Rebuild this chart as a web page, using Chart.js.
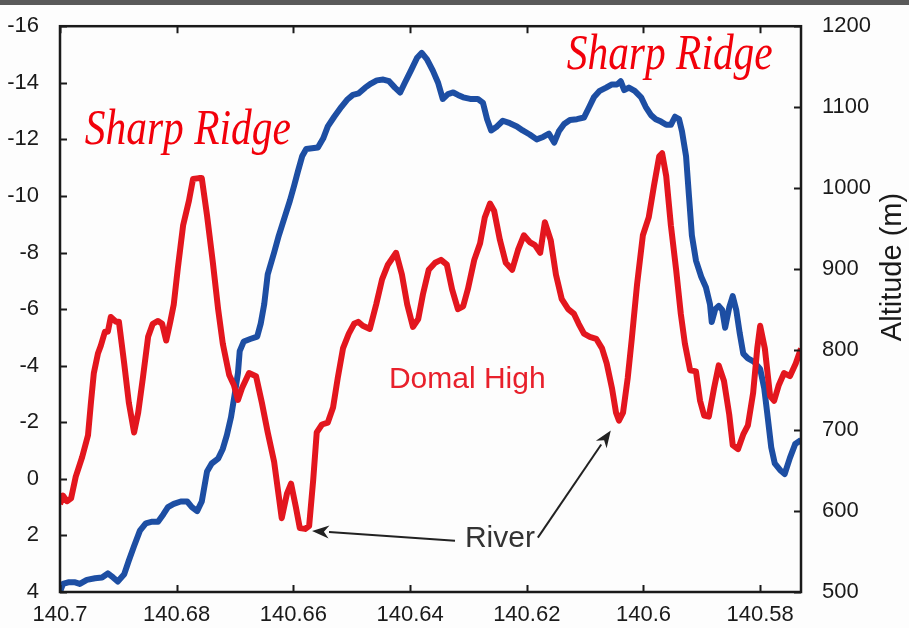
<!DOCTYPE html>
<html>
<head>
<meta charset="utf-8">
<title>Profile</title>
<script src="https://cdn.jsdelivr.net/npm/chart.js@4.4.1/dist/chart.umd.min.js"></script>
<style>
  html, body { margin: 0; padding: 0; background: #fdfdfd; }
  #wrap { width: 909px; height: 628px; position: relative; }
</style>
</head>
<body>
<div id="wrap"><canvas id="profile"></canvas></div>
<script>
// Red profile (left axis, reversed) sampled along longitude
const redLon = [
  140.7, 140.6995, 140.6988, 140.6981, 140.6973, 140.6962, 140.6952, 140.6947, 140.6942, 140.6935,
  140.693, 140.6923, 140.6918, 140.6913, 140.6904, 140.6899, 140.689, 140.6882, 140.6873, 140.6866,
  140.6858, 140.6849, 140.6841, 140.6832, 140.6825, 140.6818, 140.6811, 140.6805, 140.6798, 140.6789,
  140.6779, 140.6772, 140.6762, 140.6757, 140.6748, 140.6738, 140.6729, 140.6721, 140.671, 140.6702,
  140.6695, 140.6688, 140.6676, 140.6664, 140.6654, 140.6644, 140.6633, 140.6625, 140.662, 140.6611,
  140.6604, 140.6596, 140.6589, 140.658, 140.6573, 140.6566, 140.656, 140.6551, 140.6541, 140.6532,
  140.6524, 140.6515, 140.6505, 140.6496, 140.6489, 140.6481, 140.6469, 140.6458, 140.6448, 140.6438,
  140.6424, 140.6414, 140.6405, 140.6395, 140.6386, 140.6378, 140.6368, 140.6357, 140.6347, 140.6337,
  140.6328, 140.6318, 140.6309, 140.6301, 140.629, 140.628, 140.6272, 140.6263, 140.6256, 140.6246,
  140.6236, 140.6225, 140.6215, 140.6205, 140.6195, 140.6186, 140.6177, 140.6169, 140.6159, 140.615,
  140.614, 140.6129, 140.6119, 140.6111, 140.6102, 140.6092, 140.6081, 140.6071, 140.6063, 140.6054,
  140.6047, 140.6042, 140.6035, 140.6027, 140.602, 140.6011, 140.6001, 140.5991, 140.5982, 140.5973,
  140.5968, 140.5961, 140.5953, 140.5944, 140.5936, 140.5929, 140.592, 140.591, 140.5903, 140.5896,
  140.5888, 140.5879, 140.5871, 140.5862, 140.5853, 140.5847, 140.5838, 140.5829, 140.5821, 140.5812,
  140.5805, 140.58, 140.5792, 140.5783, 140.5776, 140.5768, 140.5759, 140.5749, 140.5739, 140.573
];
const redVal = [
  0.9, 0.59, 0.79, 0.69, -0.08, -0.77, -1.54, -2.69, -3.74, -4.43,
  -4.71, -5.2, -5.2, -5.72, -5.55, -5.55, -4.08, -2.69, -1.64, -2.34,
  -3.56, -5.02, -5.48, -5.58, -5.48, -4.89, -5.55, -6.17, -7.46, -8.96,
  -9.83, -10.6, -10.63, -10.63, -9.31, -7.64, -6.0, -4.78, -3.67, -3.32,
  -2.79, -3.21, -3.74, -3.63, -2.69, -1.64, -0.6, 0.62, 1.39, 0.52,
  0.17, 0.97, 1.74, 1.77, 1.67, 0.03, -1.64, -1.92, -1.99, -2.52,
  -3.56, -4.61, -5.13, -5.48, -5.55, -5.41, -5.3, -6.17, -7.05, -7.57,
  -7.99, -7.22, -6.17, -5.37, -5.65, -6.52, -7.39, -7.64, -7.74, -7.57,
  -6.7, -6.0, -6.1, -6.7, -7.74, -8.33, -9.24, -9.73, -9.48, -8.44,
  -7.64, -7.39, -8.09, -8.61, -8.37, -8.26, -7.99, -9.07, -8.44, -7.22,
  -6.35, -6.0, -5.83, -5.48, -5.13, -5.02, -4.95, -4.61, -4.08, -3.21,
  -2.34, -2.06, -2.34, -3.56, -4.95, -6.87, -8.61, -9.24, -10.36, -11.4,
  -11.51, -10.7, -8.96, -7.39, -5.83, -4.78, -3.84, -3.8, -2.76, -2.24,
  -2.2, -3.21, -4.01, -3.46, -2.27, -1.19, -1.05, -1.57, -1.89, -3.04,
  -4.61, -5.41, -4.61, -2.93, -2.76, -3.32, -3.74, -3.63, -4.08, -4.61
];

// Altitude profile (right axis, metres)
const blueLon = [
  140.7, 140.6995, 140.6986, 140.6974, 140.6966, 140.6954, 140.694, 140.6928, 140.6918, 140.6909,
  140.6901, 140.689, 140.6882, 140.6873, 140.6863, 140.6853, 140.6842, 140.6832, 140.6823, 140.6815,
  140.6805, 140.6793, 140.6782, 140.6774, 140.6765, 140.6757, 140.6748, 140.674, 140.6729, 140.6721,
  140.6714, 140.6707, 140.67, 140.6695, 140.6692, 140.6685, 140.6674, 140.6662, 140.6656, 140.665,
  140.6644, 140.6633, 140.6625, 140.6614, 140.6606, 140.6599, 140.6592, 140.6585, 140.6578, 140.6568,
  140.6558, 140.6549, 140.6541, 140.653, 140.6518, 140.6508, 140.6498, 140.6488, 140.6477, 140.6467,
  140.6457, 140.6446, 140.6436, 140.6426, 140.6417, 140.6409, 140.6398, 140.6388, 140.638, 140.6371,
  140.6361, 140.6352, 140.6344, 140.6335, 140.6326, 140.6318, 140.6309, 140.6297, 140.6284, 140.6275,
  140.6268, 140.6261, 140.6251, 140.6241, 140.6229, 140.6217, 140.6207, 140.6195, 140.6183, 140.6172,
  140.6162, 140.6153, 140.6145, 140.6136, 140.6126, 140.6114, 140.6102, 140.6093, 140.6085, 140.6075,
  140.6064, 140.6054, 140.6045, 140.6039, 140.6033, 140.6025, 140.6015, 140.6004, 140.5996, 140.5987,
  140.5979, 140.597, 140.5961, 140.5953, 140.5946, 140.5939, 140.5934, 140.5927, 140.5922, 140.5917,
  140.591, 140.5901, 140.5893, 140.5886, 140.5883, 140.5877, 140.5871, 140.5865, 140.586, 140.5853,
  140.5847, 140.5841, 140.5835, 140.5829, 140.5821, 140.5811, 140.58, 140.5793, 140.5788, 140.5781,
  140.5775, 140.5766, 140.5758, 140.5749, 140.574, 140.573
];
const blueAlt = [
  500, 510, 512, 512, 510, 515, 517, 518, 523, 518,
  513, 522, 539, 557, 576, 585, 587, 587, 596, 605,
  609, 612, 612, 605, 600, 612, 649, 659, 665, 677,
  694, 716, 747, 771, 798, 810, 813, 816, 832, 856,
  893, 920, 941, 966, 984, 1002, 1021, 1039, 1048, 1049,
  1050, 1061, 1076, 1088, 1100, 1109, 1115, 1117, 1124, 1129,
  1133, 1134, 1132, 1124, 1118, 1130, 1146, 1161, 1167, 1159,
  1145, 1130, 1110, 1116, 1118, 1115, 1112, 1110, 1110, 1105,
  1085, 1071, 1076, 1083, 1080, 1076, 1071, 1066, 1060, 1063,
  1067, 1056, 1070, 1079, 1084, 1085, 1087, 1100, 1112, 1120,
  1124, 1128, 1128, 1132, 1121, 1124, 1120, 1112, 1100, 1090,
  1085, 1082, 1078, 1078, 1088, 1085, 1070, 1039, 990, 941,
  910, 890, 877, 856, 834, 850, 854, 849, 827, 852,
  866, 849, 820, 795, 789, 785, 776, 752, 722, 679,
  659, 651, 646, 666, 683, 688
];

// Axis ranges
const lonRange = [140.573, 140.7];
const leftRange = [-16, 4];
const altRange = [500, 1200];

// Text labels, placed in data units (lon, left-axis value)
const labels = [
  { text: 'Sharp Ridge', lon: 140.6781, val: -11.85, kind: 'ridge' },
  { text: 'Sharp Ridge', lon: 140.5955, val: -14.47, kind: 'ridge' },
  { text: 'Domal High', lon: 140.6302, val: -3.49, kind: 'domal' },
  { text: 'River', lon: 140.6246, val: 2.12, kind: 'river' }
];
const arrows = [
  { from: [140.6323, 2.19], to: [140.6568, 1.84] },
  { from: [140.6181, 2.08], to: [140.6056, -1.71] }
];

const RED = '#e3161e';
const BLUE = '#1d4ea3';
const INK = '#1a1a1a';
const tickFont = { family: '"Liberation Sans", Arial, sans-serif', size: 22 };

function fmtLon(v) {
  return String(parseFloat(v.toFixed(2)));
}

// frame, inward ticks, annotations, right-hand title
const framePlugin = {
  id: 'frame',
  beforeDraw(chart) {
    const ctx = chart.ctx;
    ctx.save();
    ctx.fillStyle = '#5a5a5a';
    ctx.fillRect(0, 0, chart.width, 5);
    ctx.restore();
  },
  afterDatasetsDraw(chart) {
    const { ctx, chartArea: a, scales } = chart;
    const xs = scales.x, yl = scales.y, yr = scales.alt;
    ctx.save();
    ctx.strokeStyle = INK;
    ctx.lineWidth = 2.5;
    ctx.strokeRect(a.left, a.top, a.right - a.left, a.bottom - a.top);
    ctx.lineWidth = 2;
    const len = 7;
    ctx.beginPath();
    xs.ticks.forEach(t => {
      const px = Math.round(xs.getPixelForValue(t.value)) + 0.5;
      ctx.moveTo(px, a.bottom); ctx.lineTo(px, a.bottom - len);
      ctx.moveTo(px, a.top); ctx.lineTo(px, a.top + len);
    });
    yl.ticks.forEach(t => {
      const py = Math.round(yl.getPixelForValue(t.value)) + 0.5;
      ctx.moveTo(a.left, py); ctx.lineTo(a.left + len, py);
    });
    yr.ticks.forEach(t => {
      const py = Math.round(yr.getPixelForValue(t.value)) + 0.5;
      ctx.moveTo(a.right, py); ctx.lineTo(a.right - len, py);
    });
    ctx.stroke();

    // arrows towards the river valleys
    ctx.strokeStyle = '#222';
    ctx.fillStyle = '#222';
    ctx.lineWidth = 2;
    arrows.forEach(ar => {
      const x0 = xs.getPixelForValue(ar.from[0]), y0 = yl.getPixelForValue(ar.from[1]);
      const x1 = xs.getPixelForValue(ar.to[0]), y1 = yl.getPixelForValue(ar.to[1]);
      const ang = Math.atan2(y1 - y0, x1 - x0);
      const hl = 17, hw = 6.5;
      const bx = x1 - hl * Math.cos(ang), by = y1 - hl * Math.sin(ang);
      ctx.beginPath();
      ctx.moveTo(x0, y0); ctx.lineTo(bx, by);
      ctx.stroke();
      ctx.beginPath();
      ctx.moveTo(x1, y1);
      ctx.lineTo(bx + hw * Math.sin(ang), by - hw * Math.cos(ang));
      ctx.lineTo(bx + 0.3 * hl * Math.cos(ang), by + 0.3 * hl * Math.sin(ang));
      ctx.lineTo(bx - hw * Math.sin(ang), by + hw * Math.cos(ang));
      ctx.closePath();
      ctx.fill();
    });

    labels.forEach(l => {
      const px = xs.getPixelForValue(l.lon), py = yl.getPixelForValue(l.val);
      if (l.kind === 'ridge') {
        ctx.font = 'italic 50px "Liberation Serif", "DejaVu Serif", serif';
        ctx.fillStyle = '#f2000a';
        ctx.textAlign = 'center';
        ctx.textBaseline = 'alphabetic';
        const w = ctx.measureText(l.text).width;
        const sx = 206 / w;
        ctx.save();
        ctx.translate(px, py);
        ctx.scale(sx, 1);
        ctx.fillText(l.text, 0, 0);
        ctx.restore();
      } else {
        ctx.font = '30px "Liberation Sans", Arial, sans-serif';
        ctx.fillStyle = l.kind === 'domal' ? '#e8202b' : '#333';
        ctx.textAlign = 'center';
        ctx.textBaseline = 'middle';
        ctx.fillText(l.text, px, py);
      }
    });

    // right axis title, reading upwards
    ctx.save();
    ctx.translate(893, 267);
    ctx.rotate(-Math.PI / 2);
    ctx.font = '29px "Liberation Sans", Arial, sans-serif';
    ctx.fillStyle = INK;
    ctx.textAlign = 'center';
    ctx.textBaseline = 'middle';
    ctx.fillText('Altitude (m)', 0, 0);
    ctx.restore();
    ctx.restore();
  }
};

new Chart(document.getElementById('profile'), {
  type: 'line',
  data: {
    datasets: [
      {
        label: 'profile',
        data: redLon.map((x, i) => ({ x: x, y: redVal[i] })),
        yAxisID: 'y',
        borderColor: RED,
        borderWidth: 6,
        pointRadius: 0,
        tension: 0,
        borderJoinStyle: 'round'
      },
      {
        label: 'Altitude',
        data: blueLon.map((x, i) => ({ x: x, y: blueAlt[i] })),
        yAxisID: 'alt',
        borderColor: BLUE,
        borderWidth: 6,
        pointRadius: 0,
        tension: 0,
        borderJoinStyle: 'round'
      }
    ]
  },
  options: {
    responsive: true,
    maintainAspectRatio: false,
    animation: false,
    layout: { padding: { top: 18, left: 0, right: 0, bottom: 0 } },
    plugins: {
      legend: { display: false },
      tooltip: { enabled: false }
    },
    scales: {
      x: {
        type: 'linear',
        reverse: true,
        min: lonRange[0],
        max: lonRange[1],
        grid: { display: false },
        border: { display: false },
        ticks: {
          stepSize: 0.02,
          includeBounds: false,
          color: INK,
          font: tickFont,
          padding: 2,
          maxRotation: 0,
          autoSkip: false,
          callback: v => fmtLon(v)
        },
        afterFit: s => { s.height = 36; }
      },
      y: {
        position: 'left',
        reverse: true,
        min: leftRange[0],
        max: leftRange[1],
        grid: { display: false },
        border: { display: false },
        ticks: { stepSize: 2, color: INK, font: tickFont, padding: 13 },
        afterFit: s => { s.width = 60; }
      },
      alt: {
        position: 'right',
        min: altRange[0],
        max: altRange[1],
        grid: { display: false },
        border: { display: false },
        ticks: { stepSize: 100, color: INK, font: tickFont, padding: 13, callback: v => String(v) },
        afterFit: s => { s.width = 108; }
      }
    }
  },
  plugins: [framePlugin]
});
</script>
</body>
</html>
